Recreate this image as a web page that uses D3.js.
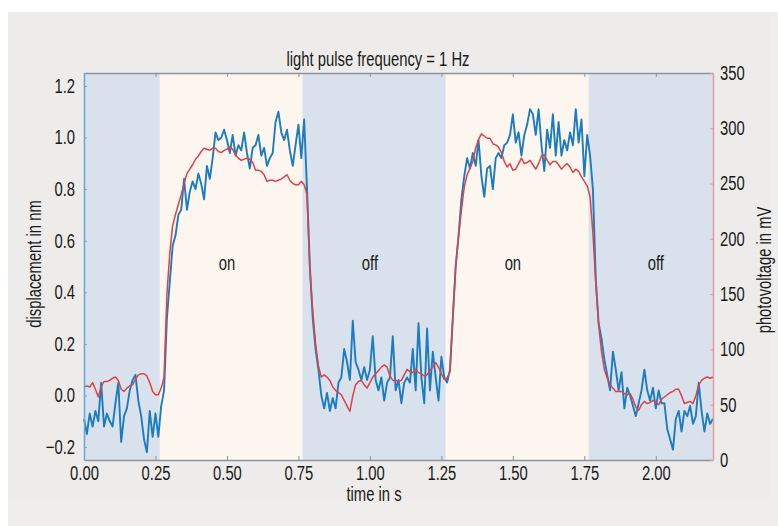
<!DOCTYPE html>
<html>
<head>
<meta charset="utf-8">
<script src="https://d3js.org/d3.v7.min.js"></script>
<style>
  body { margin: 0; background: #ffffff; }
  svg text { font-family: "Liberation Sans", Arial, sans-serif; fill: #1a1a1a; }
</style>
</head>
<body>
<svg id="chart" width="778" height="526"></svg>
<script>
// sampling of both traces: one value every 10 ms from 0.00 s to 2.20 s
var dt = 0.01;

// displacement in nm (blue, left axis)
var displacement = [
  -0.09,-0.15,-0.07,-0.12,-0.06,-0.10,0.05,-0.12,-0.07,-0.10,
  -0.12,-0.03,0.05,-0.18,-0.08,-0.05,0.02,0.06,0.08,-0.02,
  -0.08,-0.17,-0.22,-0.06,-0.16,-0.07,-0.16,-0.04,0.02,0.30,
  0.44,0.58,0.62,0.70,0.72,0.84,0.72,0.79,0.83,0.80,
  0.86,0.82,0.76,0.89,0.84,0.92,1.02,0.99,1.00,1.03,
  0.99,0.94,1.01,0.93,0.97,0.95,1.02,0.94,0.88,0.96,
  0.97,1.01,0.93,0.96,0.89,0.92,0.94,1.06,1.10,1.02,
  0.99,1.03,0.95,0.89,0.97,1.05,0.92,1.07,0.80,0.50,
  0.30,0.18,0.10,0.00,-0.05,0.01,-0.06,-0.01,-0.05,0.05,
  0.07,0.18,0.13,0.06,0.29,0.13,0.10,0.06,0.11,0.06,
  0.10,0.23,0.06,0.02,0.07,-0.02,0.05,0.07,0.23,0.02,
  0.06,-0.03,0.05,0.07,0.05,0.18,0.02,0.28,0.07,-0.03,
  0.26,0.02,0.17,0.07,-0.02,0.15,0.07,0.05,0.10,0.30,
  0.50,0.62,0.76,0.85,0.92,0.88,0.94,0.89,0.99,0.85,
  0.77,0.88,0.89,0.80,0.92,0.94,0.92,0.97,0.98,1.01,
  1.09,0.98,1.02,0.93,1.01,1.05,1.11,1.09,1.01,1.11,
  0.97,0.87,1.03,0.96,1.09,0.93,1.06,0.93,0.99,0.95,
  1.02,0.97,1.11,0.98,1.07,0.85,1.01,0.93,0.80,0.45,
  0.28,0.22,0.14,0.08,0.02,0.17,0.10,0.02,0.09,-0.05,
  0.03,0.00,-0.04,-0.08,-0.03,0.02,0.10,0.02,-0.02,0.03,
  -0.05,0.02,-0.03,-0.03,-0.13,-0.17,-0.21,-0.09,-0.06,-0.14,
  -0.06,-0.08,-0.04,-0.11,-0.08,0.05,-0.06,-0.14,-0.07,-0.11,
  -0.09
];

// photovoltage in mV (red, right axis)
var photovoltage = [
  66,67,66,70,64,57,66,71,71,72,
  74,75,72,64,62,65,67,68,73,77,
  78,78,76,70,62,59,59,65,75,150,
  187,212,222,231,240,250,259,263,267,272,
  275,279,282,281,280,282,282,279,278,280,
  281,283,281,276,273,271,272,273,272,269,
  262,262,261,258,252,253,253,252,253,254,
  256,258,253,250,249,249,252,249,240,172,
  135,105,85,75,77,75,72,66,63,61,
  59,54,49,44,58,68,71,72,68,65,
  70,75,78,81,84,86,84,76,72,72,
  71,72,77,82,80,79,82,79,78,76,
  77,81,84,88,84,78,73,74,80,130,
  175,202,226,247,258,264,270,282,290,295,
  293,291,291,286,285,283,278,270,265,268,
  262,263,268,273,268,269,271,267,263,268,
  275,276,271,267,270,270,267,263,266,268,
  265,260,263,261,256,252,248,238,205,160,
  122,98,82,74,68,65,62,62,62,60,
  59,60,55,48,45,50,53,51,52,54,
  52,50,55,57,59,61,62,64,64,58,
  51,52,53,51,58,68,72,74,75,74,
  75
];

// light on / off periods
var bandStart = [0, 0.265, 0.765, 1.265, 1.765];
var bandEnd   = [0.265, 0.765, 1.265, 1.765, 2.2];
var bandState = ["off", "on", "off", "on", "off"];

// labels written inside the periods
var labelTime = [0.5, 1.0, 1.5, 2.0];
var labelText = ["on", "off", "on", "off"];

var xTicks = [0, 0.25, 0.5, 0.75, 1.0, 1.25, 1.5, 1.75, 2.0];
var leftTicks = [-0.2, 0, 0.2, 0.4, 0.6, 0.8, 1.0, 1.2];
var rightTicks = [0, 50, 100, 150, 200, 250, 300, 350];

var svg = d3.select("#chart");

// grey panel behind the figure
svg.append("rect").attr("x", 8).attr("y", 12).attr("width", 770).attr("height", 514)
    .attr("fill", "#efeeec");
svg.append("rect").attr("x", 8).attr("y", 12).attr("width", 762).attr("height", 487)
    .attr("fill", "#edecea");

var plotLeft = 84, plotRight = 713, plotTop = 73, plotBottom = 460;
var fontSize = "20px";

var x = d3.scaleLinear().domain([0, 2.2]).range([plotLeft, plotRight]);
var yL = d3.scaleLinear().domain([-0.25, 1.25]).range([plotBottom, plotTop]);
var yR = d3.scaleLinear().domain([0, 350]).range([plotBottom, plotTop]);

// the original uses a condensed face: squeeze the glyphs horizontally
function condense(sel) {
    sel.each(function() {
        var w = this.getComputedTextLength();
        if (w > 0) {
            d3.select(this)
                .attr("textLength", w * 0.74)
                .attr("lengthAdjust", "spacingAndGlyphs");
        }
    });
}

// background bands
svg.append("g").selectAll("rect")
    .data(bandStart)
    .enter().append("rect")
    .attr("x", function(d) { return x(d); })
    .attr("y", plotTop)
    .attr("width", function(d, i) { return x(bandEnd[i]) - x(d); })
    .attr("height", plotBottom - plotTop)
    .attr("fill", function(d, i) { return bandState[i] === "on" ? "#fdf6ef" : "#d9e1ec"; });

// band labels
svg.append("g").selectAll("text")
    .data(labelTime)
    .enter().append("text")
    .attr("x", function(d) { return x(d); })
    .attr("y", yL(0.5) + 3)
    .attr("text-anchor", "middle")
    .style("font-size", fontSize)
    .text(function(d, i) { return labelText[i]; })
    .call(condense);

// traces
var blueLine = d3.line()
    .x(function(d, i) { return x(i * dt); })
    .y(function(d) { return yL(d); });
var redLine = d3.line()
    .x(function(d, i) { return x(i * dt); })
    .y(function(d) { return yR(d); });

svg.append("path").datum(displacement)
    .attr("d", blueLine)
    .attr("fill", "none")
    .attr("stroke", "#1b7cc0")
    .attr("stroke-width", 1.9)
    .attr("stroke-linejoin", "round");

svg.append("path").datum(photovoltage)
    .attr("d", redLine)
    .attr("fill", "none")
    .attr("stroke", "#dc4349")
    .attr("stroke-width", 1.5)
    .attr("stroke-linejoin", "round");

// axes
function styleAxis(g, color) {
    g.attr("font-family", null).attr("font-size", null);
    g.select(".domain").attr("stroke", color).attr("stroke-width", 1.5);
    g.selectAll(".tick line").attr("stroke", color);
    g.selectAll(".tick text").style("font-size", fontSize).attr("fill", "#1a1a1a").call(condense);
}

var gBottom = svg.append("g")
    .attr("transform", "translate(0," + plotBottom + ")")
    .call(d3.axisBottom(x).tickValues(xTicks).tickFormat(d3.format(".2f"))
        .tickSizeInner(-4).tickSizeOuter(0).tickPadding(6));
styleAxis(gBottom, "#8c93a0");

var gTop = svg.append("g")
    .attr("transform", "translate(0," + plotTop + ")")
    .call(d3.axisTop(x).tickValues(xTicks).tickFormat("")
        .tickSizeInner(-4).tickSizeOuter(0));
styleAxis(gTop, "#8c93a0");

var gLeft = svg.append("g")
    .attr("transform", "translate(" + plotLeft + ",0)")
    .call(d3.axisLeft(yL).tickValues(leftTicks).tickFormat(d3.format(".1f"))
        .tickSizeInner(-3).tickSizeOuter(0).tickPadding(9));
styleAxis(gLeft, "#6aa7d9");

var gRight = svg.append("g")
    .attr("transform", "translate(" + plotRight + ",0)")
    .call(d3.axisRight(yR).tickValues(rightTicks)
        .tickSizeInner(-3).tickSizeOuter(0).tickPadding(7));
styleAxis(gRight, "#e99a9c");

// titles
svg.append("text")
    .attr("x", 378).attr("y", 66)
    .attr("text-anchor", "middle")
    .style("font-size", fontSize)
    .text("light pulse frequency = 1 Hz")
    .call(condense);

svg.append("text")
    .attr("x", 374).attr("y", 501)
    .attr("text-anchor", "middle")
    .style("font-size", fontSize)
    .text("time in s")
    .call(condense);

svg.append("text")
    .attr("transform", "translate(41,264) rotate(-90)")
    .attr("text-anchor", "middle")
    .style("font-size", fontSize)
    .text("displacement in nm")
    .call(condense);

svg.append("text")
    .attr("transform", "translate(771,270) rotate(-90)")
    .attr("text-anchor", "middle")
    .style("font-size", fontSize)
    .text("photovoltage in mV")
    .call(condense);
</script>
</body>
</html>
